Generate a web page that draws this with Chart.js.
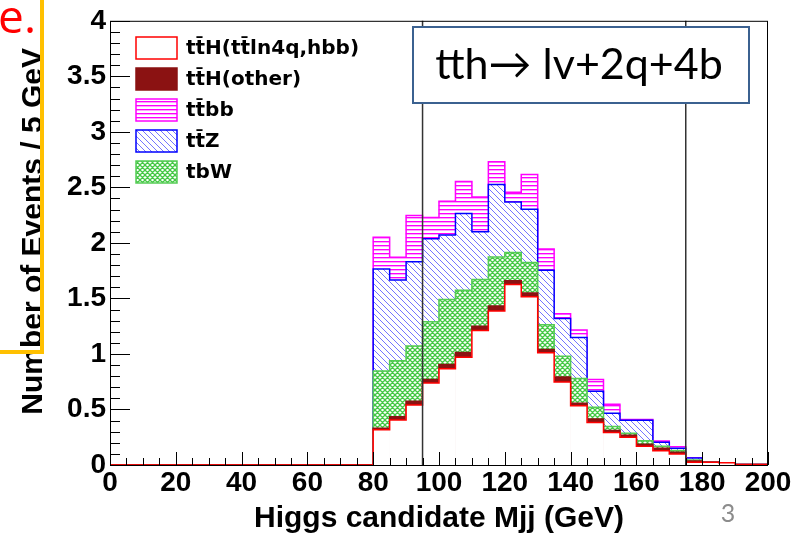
<!DOCTYPE html>
<html>
<head>
<meta charset="utf-8">
<title>tth - Higgs candidate Mjj</title>
<script src="https://cdn.jsdelivr.net/npm/chart.js@4.4.1/dist/chart.umd.min.js"></script>
<style>
  html, body { margin: 0; padding: 0; background: #fff; }
  #wrap { position: relative; width: 803px; height: 535px; }
</style>
</head>
<body>
<div id="wrap"><canvas id="mjjChart"></canvas></div>
<script>
// lower bin edges in GeV (5 GeV bins)
const massBins = [0, 5, 10, 15, 20, 25, 30, 35, 40, 45, 50, 55, 60, 65, 70, 75,
  80, 85, 90, 95, 100, 105, 110, 115, 120, 125, 130, 135, 140, 145, 150, 155,
  160, 165, 170, 175, 180, 185, 190, 195];
const binWidth = 5;

// events per bin for each sample (stacked from the bottom up)
const ttHSignal = [0, 0, 0, 0, 0, 0, 0, 0, 0, 0, 0, 0, 0, 0, 0, 0,
  0.317, 0.406, 0.54, 0.739, 0.867, 0.971, 1.211, 1.387, 1.625, 1.515, 1.01, 0.748,
  0.534, 0.382, 0.293, 0.251, 0.168, 0.129, 0.10, 0.025, 0.025, 0.02, 0.005, 0.005];
const ttHOther = [0, 0, 0, 0, 0, 0, 0, 0, 0, 0, 0, 0, 0, 0, 0, 0,
  0.015, 0.029, 0.035, 0.03, 0.038, 0.041, 0.039, 0.045, 0.035, 0.033, 0.03, 0.044,
  0.023, 0.033, 0.017, 0.018, 0.018, 0.021, 0.014, 0.01, 0, 0, 0, 0];
const tbW = [0, 0, 0, 0, 0, 0, 0, 0, 0, 0, 0, 0, 0, 0, 0, 0,
  0.514, 0.503, 0.497, 0.52, 0.585, 0.562, 0.42, 0.44, 0.253, 0.276, 0.222, 0.188,
  0.221, 0.104, 0.036, 0.018, 0.033, 0.018, 0.016, 0.01, 0, 0, 0, 0];
const ttZ = [0, 0, 0, 0, 0, 0, 0, 0, 0, 0, 0, 0, 0, 0, 0, 0,
  0.919, 0.729, 0.758, 0.749, 0.581, 0.69, 0.43, 0.654, 0.455, 0.479, 0.491, 0.339,
  0.371, 0.146, 0.12, 0.116, 0.184, 0.036, 0.02, 0.019, 0, 0, 0, 0];
const ttbb = [0, 0, 0, 0, 0, 0, 0, 0, 0, 0, 0, 0, 0, 0, 0, 0,
  0.285, 0.203, 0.416, 0.19, 0.304, 0.289, 0.313, 0.205, 0.089, 0.312, 0.192, 0.044,
  0.066, 0.104, 0.08, 0.007, 0.007, 0.012, 0.015, 0.002, 0, 0, 0, 0];

// selection window lines
const cutLines = [95, 175];

const canvas = document.getElementById('mjjChart');
const mainCtx = canvas.getContext('2d');

function makePattern(size, draw) {
  const c = document.createElement('canvas');
  c.width = size; c.height = size;
  const g = c.getContext('2d');
  g.fillStyle = '#fff';
  g.fillRect(0, 0, size, size);
  draw(g, size);
  return mainCtx.createPattern(c, 'repeat');
}

const magentaLines = makePattern(4, (g, s) => {
  g.fillStyle = '#ff00ff';
  g.fillRect(0, 1, s, 1);
  g.fillStyle = '#ffa0ff';
  g.fillRect(0, 2, s, 1);
});
const blueDiag = makePattern(6, (g, s) => {
  g.strokeStyle = '#7575ff';
  g.lineWidth = 1;
  g.beginPath();
  for (const k of [-s, 0, s]) { g.moveTo(k, 0); g.lineTo(k + s, s); }
  g.stroke();
});
const greenCross = makePattern(5, (g, s) => {
  g.strokeStyle = '#44c844';
  g.lineWidth = 1.3;
  g.beginPath();
  for (const k of [-s, 0, s]) {
    g.moveTo(k, 0); g.lineTo(k + s, s);
    g.moveTo(k + s, 0); g.lineTo(k, s);
  }
  g.stroke();
});

// stacking order, bottom first
const layers = [
  { label: 'tt\u0304H(tt\u0304ln4q,hbb)', values: ttHSignal, fill: '#ffffff', line: '#ff0000' },
  { label: 'tt\u0304H(other)', values: ttHOther, fill: '#8b1212', line: '#8b1212' },
  { label: 'tbW', values: tbW, fill: greenCross, line: '#55cc55' },
  { label: 'tt\u0304Z', values: ttZ, fill: blueDiag, line: '#0000ff' },
  { label: 'tt\u0304bb', values: ttbb, fill: magentaLines, line: '#ff00ff' }
];
// legend order as in the plot
const legendOrder = [0, 1, 4, 3, 2];

const datasets = [];
let running = massBins.map(() => 0);
layers.forEach((layer, k) => {
  running = running.map((v, i) => v + layer.values[i]);
  const cum = running.slice();
  // filled histogram (cumulative, drawn over the ones above it)
  datasets.push({
    type: 'bar',
    label: layer.label,
    data: massBins.map((m, i) => ({ x: m + binWidth / 2, y: cum[i] })),
    backgroundColor: layer.fill,
    borderWidth: 0,
    grouped: false,
    barPercentage: 1.04,
    categoryPercentage: 1,
    order: 2 * k + 1
  });
  // step outline
  const outline = massBins.map((m, i) => ({ x: m, y: cum[i] }));
  outline.push({ x: massBins[massBins.length - 1] + binWidth, y: cum[cum.length - 1] });
  datasets.push({
    type: 'line',
    label: layer.label + ' outline',
    data: outline,
    borderColor: layer.line,
    borderWidth: 1.5,
    stepped: 'before',
    pointRadius: 0,
    fill: false,
    order: 2 * k
  });
});

const rootStyle = {
  id: 'rootStyle',
  afterDatasetsDraw(chart) {
    const { ctx, chartArea: a, scales: { x, y } } = chart;
    ctx.save();
    ctx.strokeStyle = '#333';
    ctx.lineWidth = 1.5;
    cutLines.forEach(v => {
      const px = x.getPixelForValue(v);
      ctx.beginPath(); ctx.moveTo(px, a.top); ctx.lineTo(px, a.bottom); ctx.stroke();
    });
    // ROOT style ticks, inside the frame
    ctx.strokeStyle = '#000';
    ctx.lineWidth = 1;
    ctx.beginPath();
    for (let v = 0; v <= 200; v += 5) {
      const px = Math.round(x.getPixelForValue(v)) + 0.5;
      const len = v % 20 === 0 ? 13 : 7;
      ctx.moveTo(px, a.bottom); ctx.lineTo(px, a.bottom - len);
    }
    for (let i = 0; i <= 40; i++) {
      const py = Math.round(y.getPixelForValue(i / 10)) + 0.5;
      const len = i % 5 === 0 ? 20 : 10;
      ctx.moveTo(a.left, py); ctx.lineTo(a.left + len, py);
    }
    ctx.stroke();
    ctx.strokeRect(a.left + 0.5, a.top + 0.5, a.right - a.left - 1, a.bottom - a.top);
    ctx.restore();
  },
  afterDraw(chart) {
    const ctx = chart.ctx;
    ctx.save();
    // y axis title
    ctx.save();
    ctx.translate(42, 48);
    ctx.rotate(-Math.PI / 2);
    ctx.font = 'bold 30px "Liberation Sans", Arial, sans-serif';
    ctx.fillStyle = '#000';
    ctx.textAlign = 'right';
    ctx.textBaseline = 'alphabetic';
    ctx.fillText('Number of Events / 5 GeV', 0, 0);
    ctx.restore();
    // legend
    ctx.font = 'bold 20px "DejaVu Sans"';
    ctx.textBaseline = 'middle';
    ctx.textAlign = 'left';
    legendOrder.forEach((k, row) => {
      const layer = layers[k];
      const cy = 48 + row * 31;
      ctx.fillStyle = layer.fill;
      ctx.fillRect(136, cy - 11, 41, 22);
      ctx.strokeStyle = layer.line;
      ctx.lineWidth = 1.5;
      ctx.strokeRect(136, cy - 11, 41, 22);
      ctx.fillStyle = '#000';
      ctx.fillText(layer.label, 186, cy + 1);
    });
    // channel text box
    ctx.fillStyle = '#fff';
    ctx.fillRect(413, 27, 336, 76);
    ctx.strokeStyle = '#3b6190';
    ctx.lineWidth = 2;
    ctx.strokeRect(413, 27, 336, 76);
    ctx.fillStyle = '#000';
    ctx.font = '43px Lato';
    ctx.textAlign = 'center';
    ctx.textBaseline = 'alphabetic';
    ctx.fillText('tth\u2192 lv+2q+4b', 579, 79);
    // slide leftovers
    ctx.fillStyle = '#8c8c8c';
    ctx.font = '25px Lato';
    ctx.fillText('3', 728, 522);
    ctx.strokeStyle = '#ffc000';
    ctx.lineWidth = 4;
    ctx.beginPath();
    ctx.moveTo(42, 0); ctx.lineTo(42, 352); ctx.lineTo(0, 352);
    ctx.stroke();
    ctx.fillStyle = '#ff0000';
    ctx.font = '46px "Open Sans", Lato, sans-serif';
    ctx.textAlign = 'left';
    ctx.fillText('e', -2, 33);
    ctx.fillText('.', 24, 33);
    ctx.restore();
  }
};

Chart.defaults.font.family = '"Liberation Sans", Arial, sans-serif';
Chart.defaults.color = '#000';

new Chart(mainCtx, {
  type: 'bar',
  data: { datasets: datasets },
  options: {
    responsive: true,
    maintainAspectRatio: false,
    animation: false,
    events: [],
    layout: { padding: { top: 17, right: 35, left: 0, bottom: 0 } },
    plugins: {
      legend: { display: false },
      tooltip: { enabled: false }
    },
    scales: {
      x: {
        type: 'linear',
        min: 0,
        max: 200,
        offset: false,
        grid: { display: false, drawTicks: false },
        border: { display: false },
        ticks: { stepSize: 20, maxRotation: 0, autoSkip: false, padding: 1,
          font: { size: 28, weight: 'bold' } },
        title: { display: true, text: 'Higgs candidate Mjj (GeV)',
          font: { size: 30, weight: 'bold' }, padding: { top: 0, bottom: -2 } },
        afterFit(scale) { scale.height = 70; }
      },
      y: {
        min: 0,
        max: 4,
        grid: { display: false, drawTicks: false },
        border: { display: false },
        ticks: { stepSize: 0.5, padding: 4, font: { size: 28, weight: 'bold' },
          callback: v => String(v) },
        title: { display: false },
        afterFit(scale) { scale.width = 110; }
      }
    }
  },
  plugins: [rootStyle]
});
</script>
</body>
</html>
